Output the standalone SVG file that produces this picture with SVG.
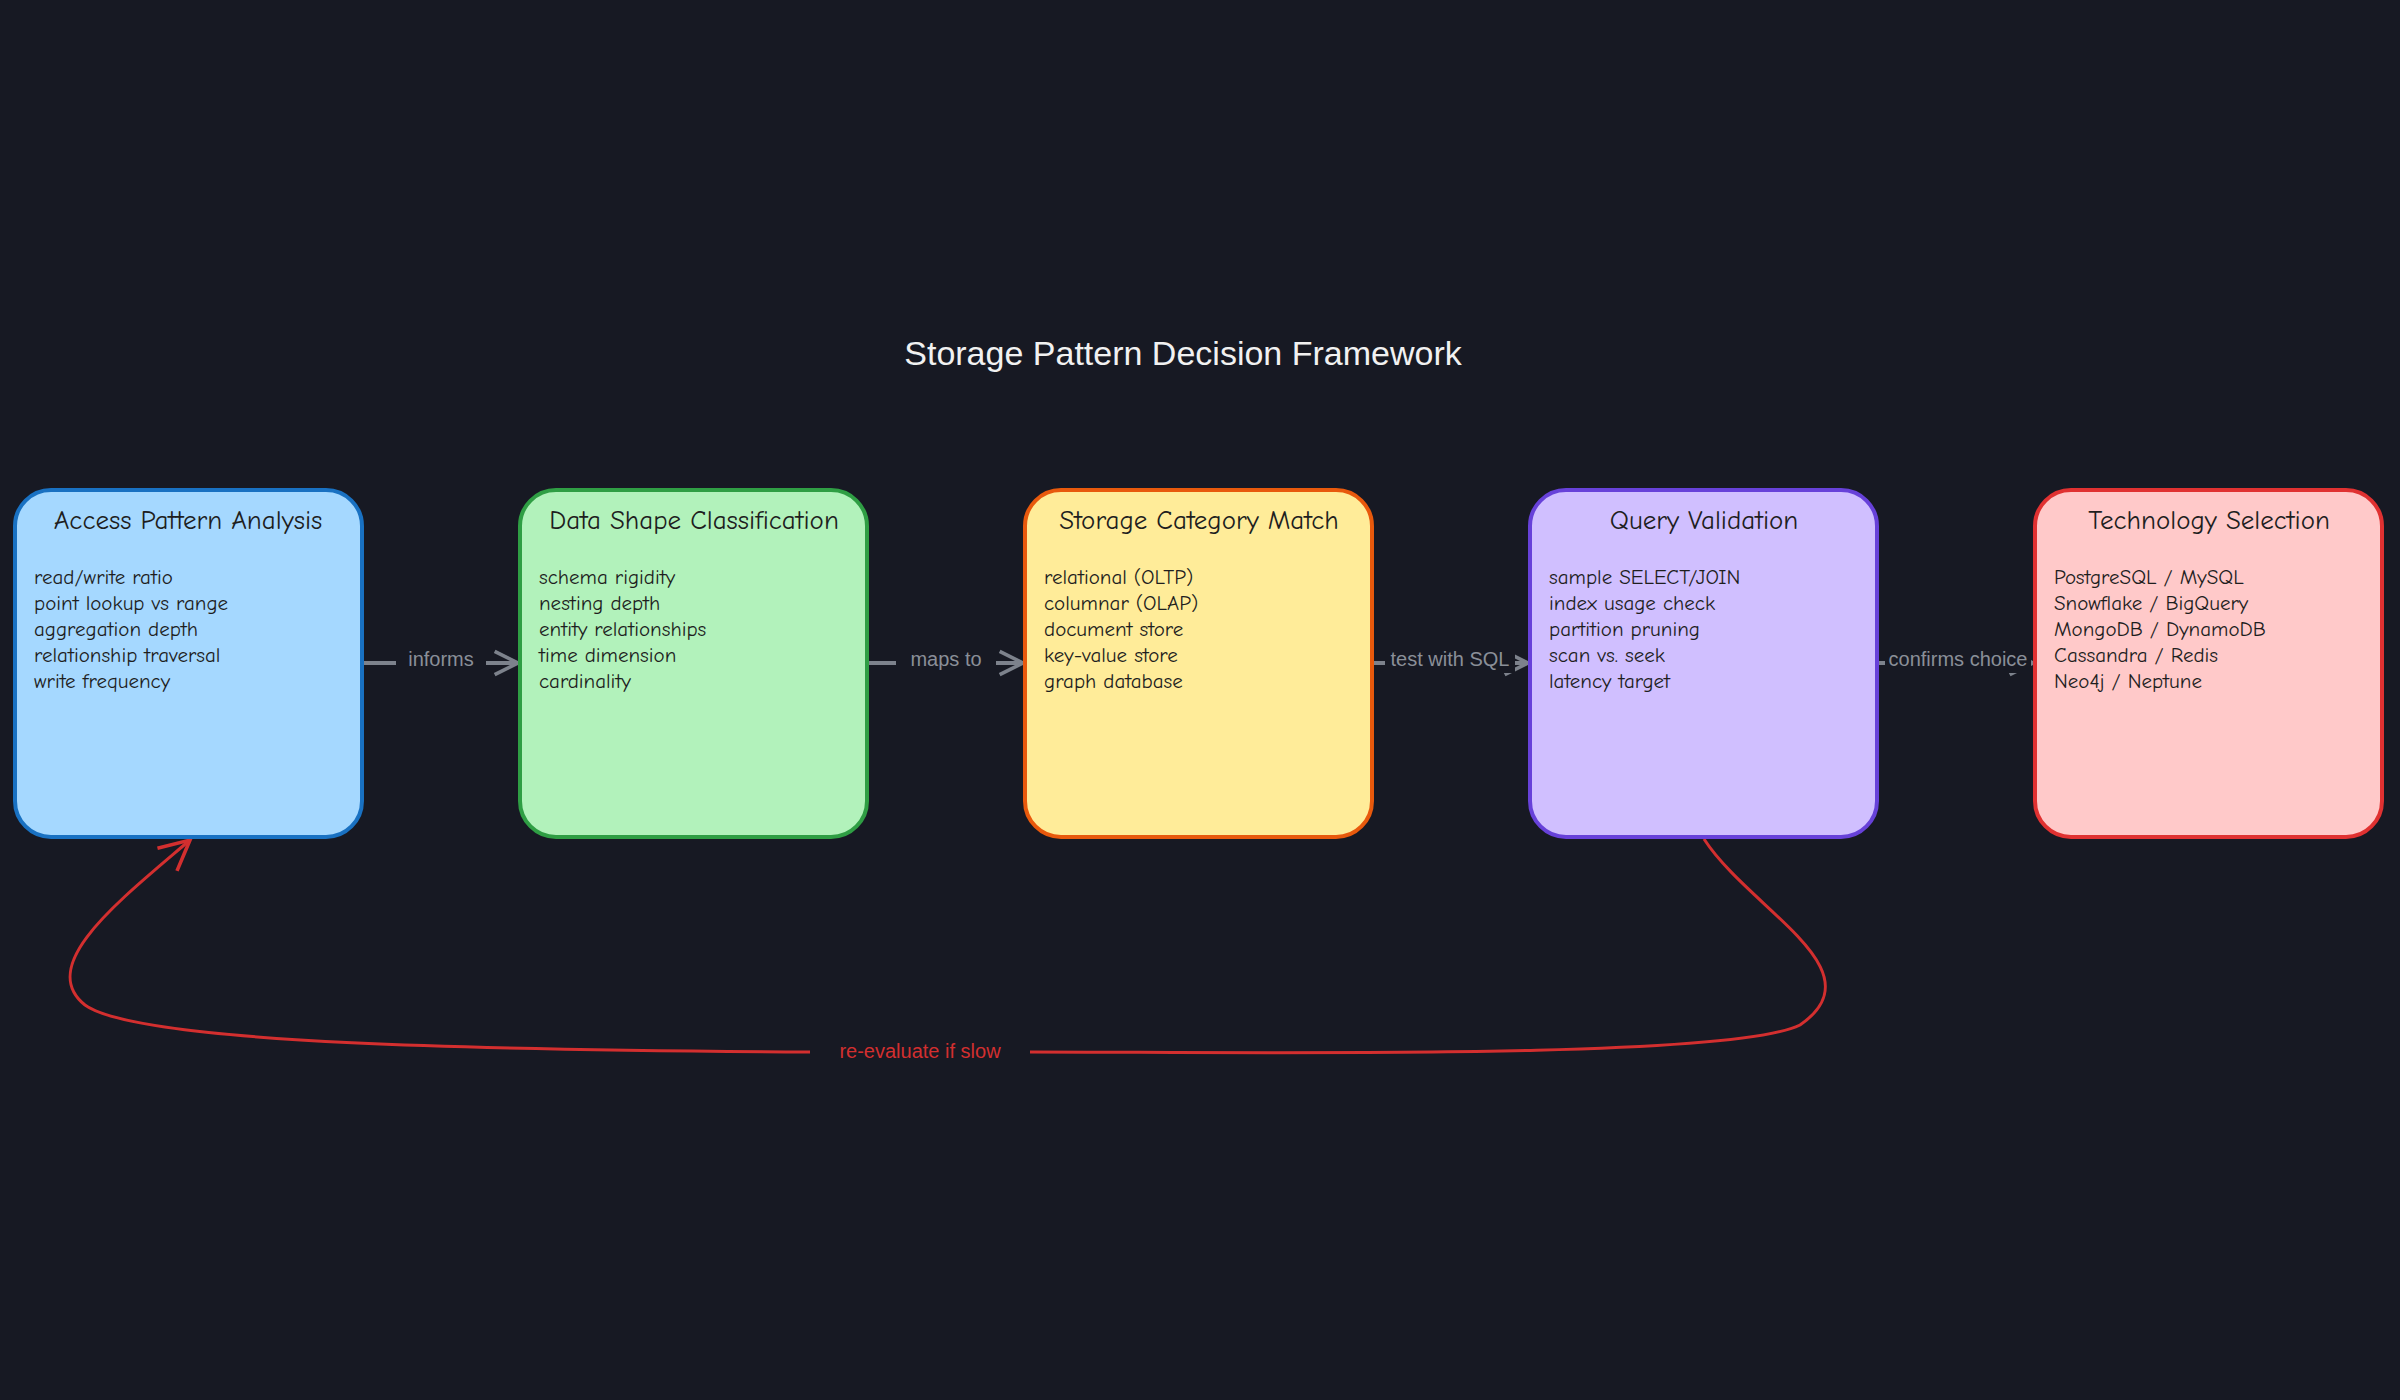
<svg xmlns="http://www.w3.org/2000/svg" width="2400" height="1400" viewBox="0 0 2400 1400">
<defs>
<style>
.box{stroke-width:4}
.t{font-family:"Comic Neue","Liberation Sans",sans-serif;fill:#1e1e1e}
.h{font-size:27px;text-anchor:middle}
.b{font-size:21px}
.lbl{font-family:"Liberation Sans",sans-serif;font-size:20px;fill:#8a8f98;text-anchor:middle}
.c{stroke:#7d828c;stroke-width:4;fill:none;marker-end:url(#ag)}
</style>
<marker id="ag" viewBox="0 0 12 12" refX="11" refY="6" markerWidth="7" markerHeight="7" orient="auto" markerUnits="strokeWidth"><path d="M1,1 L11,6 L1,11" fill="none" stroke="#7d828c" stroke-width="1.6"/></marker>
<marker id="ar" viewBox="0 0 12 12" refX="11" refY="6" markerWidth="12" markerHeight="12" orient="auto" markerUnits="strokeWidth"><path d="M1,1 L11,6 L1,11" fill="none" stroke="#d32f2f" stroke-width="1.2"/></marker>
</defs>
<rect width="2400" height="1400" fill="#171923"/>
<text x="1183" y="365" font-family="Liberation Sans,sans-serif" font-size="34" fill="#f1f1f1" text-anchor="middle">Storage Pattern Decision Framework</text>
<g id="connectors">
<path class="c" d="M364,663 L518,663"/>
<path class="c" d="M869,663 L1023,663"/>
<path class="c" d="M1374,663 L1528,663"/>
<path class="c" d="M1879,663 L2033,663"/>
<rect x="396" y="645" width="90" height="28" fill="#171923"/>
<text class="lbl" x="441" y="666">informs</text>
<rect x="896" y="645" width="100" height="28" fill="#171923"/>
<text class="lbl" x="946" y="666">maps to</text>
<rect x="1385" y="645" width="130" height="28" fill="#171923"/>
<text class="lbl" x="1450" y="666">test with SQL</text>
<rect x="1885" y="645" width="146" height="28" fill="#171923"/>
<text class="lbl" x="1958" y="666">confirms choice</text>
<path d="M1704,839 C1750,910 1880,970 1800,1025 C1730,1060 1250,1052 1030,1052 L810,1052 C500,1050 140,1045 85,1005 C35,965 120,900 190,840" fill="none" stroke="#d32f2f" stroke-width="3" marker-end="url(#ar)"/>
<rect x="810" y="1036" width="220" height="30" fill="#171923"/>
<text x="920" y="1058" font-family="Liberation Sans,sans-serif" font-size="20" fill="#d32f2f" text-anchor="middle">re-evaluate if slow</text>
</g>
<g id="n1"><rect class="box" x="15" y="490" width="347" height="347" rx="36" fill="#a5d8ff" stroke="#1971c2"/>
<text class="t h" x="188" y="529">Access Pattern Analysis</text>
<text class="t b" x="34" y="584">read/write ratio</text><text class="t b" x="34" y="610">point lookup vs range</text><text class="t b" x="34" y="636">aggregation depth</text><text class="t b" x="34" y="662">relationship traversal</text><text class="t b" x="34" y="688">write frequency</text></g>
<g id="n2"><rect class="box" x="520" y="490" width="347" height="347" rx="36" fill="#b2f2bb" stroke="#2f9e44"/>
<text class="t h" x="694" y="529">Data Shape Classification</text>
<text class="t b" x="539" y="584">schema rigidity</text><text class="t b" x="539" y="610">nesting depth</text><text class="t b" x="539" y="636">entity relationships</text><text class="t b" x="539" y="662">time dimension</text><text class="t b" x="539" y="688">cardinality</text></g>
<g id="n3"><rect class="box" x="1025" y="490" width="347" height="347" rx="36" fill="#ffec99" stroke="#e8590c"/>
<text class="t h" x="1199" y="529">Storage Category Match</text>
<text class="t b" x="1044" y="584">relational (OLTP)</text><text class="t b" x="1044" y="610">columnar (OLAP)</text><text class="t b" x="1044" y="636">document store</text><text class="t b" x="1044" y="662">key-value store</text><text class="t b" x="1044" y="688">graph database</text></g>
<g id="n4"><rect class="box" x="1530" y="490" width="347" height="347" rx="36" fill="#d0bfff" stroke="#6741d9"/>
<text class="t h" x="1704" y="529">Query Validation</text>
<text class="t b" x="1549" y="584">sample SELECT/JOIN</text><text class="t b" x="1549" y="610">index usage check</text><text class="t b" x="1549" y="636">partition pruning</text><text class="t b" x="1549" y="662">scan vs. seek</text><text class="t b" x="1549" y="688">latency target</text></g>
<g id="n5"><rect class="box" x="2035" y="490" width="347" height="347" rx="36" fill="#ffc9c9" stroke="#e03131"/>
<text class="t h" x="2209" y="529">Technology Selection</text>
<text class="t b" x="2054" y="584">PostgreSQL / MySQL</text><text class="t b" x="2054" y="610">Snowflake / BigQuery</text><text class="t b" x="2054" y="636">MongoDB / DynamoDB</text><text class="t b" x="2054" y="662">Cassandra / Redis</text><text class="t b" x="2054" y="688">Neo4j / Neptune</text></g>
</svg>
